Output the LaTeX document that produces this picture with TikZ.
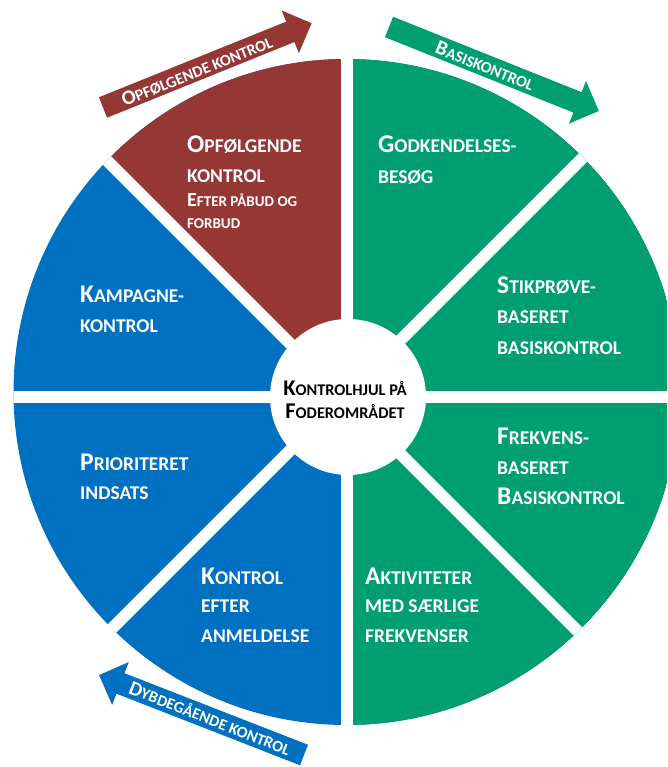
\documentclass[tikz,border=0pt]{standalone}
\usepackage{fontspec}
\setmainfont{Carlito}
\definecolor{cred}{HTML}{953735}
\definecolor{cgreen}{HTML}{009F72}
\definecolor{cblue}{HTML}{0070C0}
\newcommand\BgA[1]{{\fontsize{25.5}{25.5}\selectfont#1}}
\newcommand\BgB[1]{{\fontsize{20}{20}\selectfont#1}}
\newcommand\BgC[1]{{\fontsize{22.5}{22.5}\selectfont#1}}
\newcommand\BgD[1]{{\fontsize{20.5}{20.5}\selectfont#1}}
\tikzset{
  lbl/.style={anchor=base west, text=white, inner sep=0pt, font=\bfseries\fontsize{19.5}{19.5}\selectfont},
  lblsmall/.style={anchor=base west, text=white, inner sep=0pt, font=\bfseries\fontsize{15}{15}\selectfont},
  ctr/.style={anchor=base, text=black, inner sep=0pt, font=\bfseries\fontsize{16.3}{16.3}\selectfont},
  arrlbl/.style={text=white, inner sep=0pt, font=\bfseries\fontsize{16}{16}\selectfont},
  gap/.style={white, line width=12pt}
}
\newcommand\blockarrow[4]{% tail, angle, length, colour
  \begin{scope}[shift={(#1)}, rotate=#2]
    \fill[#4] (0,-11) -- (#3-23,-11) -- (#3-23,-23) -- (#3,0) -- (#3-23,23) -- (#3-23,11) -- (0,11) -- cycle;
  \end{scope}}
\begin{document}
\begin{tikzpicture}[x=1pt,y=-1pt]
\useasboundingbox (0,0) rectangle (667,767);
\begin{scope}
  \clip (0,0) rectangle (667,767);
  \clip (346.5,392) circle (333pt);
  \fill[cblue] (0,0) rectangle (667,767);
  \fill[cgreen] (346.5,0) rectangle (667,767);
  \fill[cred] (346.5,397) -- (346.5,0) -- (-50.5,0) -- cycle;
  \draw[gap] (0,397) -- (667,397);
  \draw[gap] (346.5,0) -- (346.5,767);
  \draw[gap] (-53.5,0) -- (746.5,800);
  \draw[gap] (-53.5,794) -- (746.5,-6);
\end{scope}
\fill[white] (348,397) circle (78pt);

% arrows
\blockarrow{103,107.5}{22}{225}{cred}
\blockarrow{389,27}{-21.8}{226}{cgreen}
\blockarrow{304,755}{158.7}{220}{cblue}
\node[arrlbl, rotate=22] (aRed) at (197,71) {\BgD{O}PFØLGENDE KONTROL};
\node[arrlbl, rotate=-21.8] (aGreen) at (485,66) {\BgD{B}ASISKONTROL};
\node[arrlbl, rotate=-21.3] (aBlue) at (210,718) {\BgD{D}YBDEGÅENDE KONTROL};

% red segment
\node[lbl] (r1) at (187,153) {\BgA{O}PFØLGENDE};
\node[lbl] (r2) at (187,183) {KONTROL};
\node[lblsmall] (r3) at (187,207) {\BgB{E}FTER PÅBUD OG};
\node[lblsmall] (r4) at (187,229) {FORBUD};

% green segments
\node[lbl] (g1) at (378,153) {\BgA{G}ODKENDELSES-};
\node[lbl] (g2) at (378,184) {BESØG};
\node[lbl] (s1) at (497,293) {\BgA{S}TIKPRØVE-};
\node[lbl] (s2) at (497,323) {BASERET};
\node[lbl] (s3) at (497,354) {BASISKONTROL};
\node[lbl] (f1) at (497,444) {\BgA{F}REKVENS-};
\node[lbl] (f2) at (497,474) {BASERET};
\node[lbl] (f3) at (497,504) {\BgA{B}ASISKONTROL};
\node[lbl] (k1) at (365,584) {\BgA{A}KTIVITETER};
\node[lbl] (k2) at (365,612) {MED SÆRLIGE};
\node[lbl] (k3) at (365,642) {FREKVENSER};

% blue segments
\node[lbl] (b1) at (201,584) {\BgA{K}ONTROL};
\node[lbl] (b2) at (201,612) {EFTER};
\node[lbl] (b3) at (201,642) {ANMELDELSE};
\node[lbl] (p1) at (80,470) {\BgA{P}RIORITERET};
\node[lbl] (p2) at (80,499) {INDSATS};
\node[lbl] (m1) at (80,302) {\BgA{K}AMPAGNE-};
\node[lbl] (m2) at (80,332) {KONTROL};

% centre
\node[ctr] (c1) at (345,395) {\BgC{K}ONTROLHJUL PÅ};
\node[ctr] (c2) at (345,418) {\BgC{F}ODEROMRÅDET};
\end{tikzpicture}
\end{document}
